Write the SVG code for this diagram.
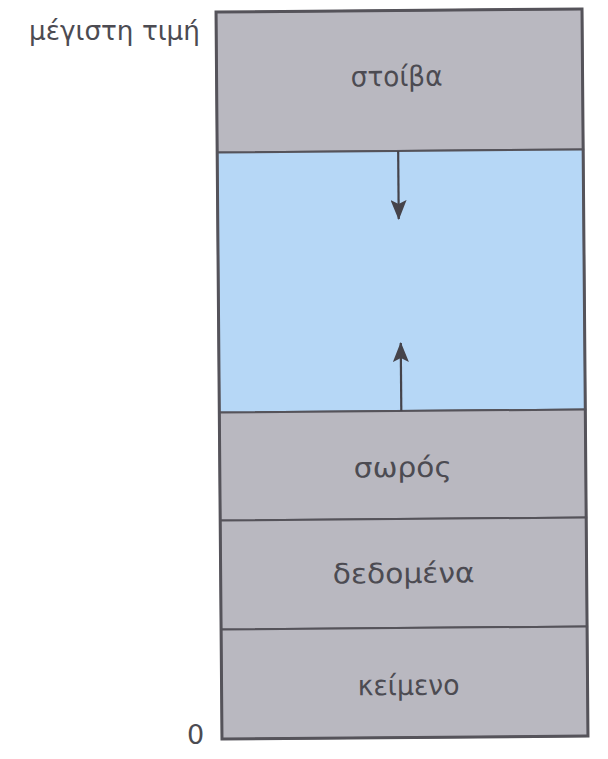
<svg xmlns="http://www.w3.org/2000/svg" width="608" height="759" viewBox="0 0 608 759">
<style>
.seg{fill:#b9b8c0;stroke:#55535a;stroke-width:2}
.free{fill:#b6d7f6;stroke:#55535a;stroke-width:2}
.lbl{font-family:"DejaVu Sans","Liberation Sans",sans-serif;font-size:28px;fill:#4c4b52;text-anchor:middle}
.side{font-family:"DejaVu Sans","Liberation Sans",sans-serif;font-size:27px;fill:#4c4b52}
.conn{stroke:#45434a;stroke-width:2.2;fill:none;marker-end:url(#ah)}
</style>
<defs>
<marker id="ah" viewBox="0 0 20 16" refX="19" refY="8" markerWidth="20" markerHeight="16" markerUnits="userSpaceOnUse" orient="auto">
<path d="M0,0 L20,8 L0,16 L4,8 Z" fill="#45434a"/>
</marker>
</defs>
<rect width="608" height="759" fill="#ffffff"/>
<g transform="rotate(-0.47 402 374)">
<g id="stack"><rect class="seg" x="219" y="10.5" width="366" height="140.5"/><text class="lbl" x="399" y="86" textLength="92" lengthAdjust="spacingAndGlyphs">στοίβα</text></g>
<g id="free"><rect class="free" x="219" y="151" width="366" height="260"/></g>
<g id="heap"><rect class="seg" x="219" y="411" width="366" height="108"/><text class="lbl" x="402" y="477" textLength="98" lengthAdjust="spacingAndGlyphs">σωρός</text></g>
<g id="data"><rect class="seg" x="219" y="519" width="366" height="109"/><text class="lbl" x="402" y="583" textLength="142" lengthAdjust="spacingAndGlyphs">δεδομένα</text></g>
<g id="text"><rect class="seg" x="219" y="628" width="366" height="109.5"/><text class="lbl" x="406" y="695" textLength="102" lengthAdjust="spacingAndGlyphs">κείμενο</text></g>
<rect x="219" y="10.5" width="366" height="727" fill="none" stroke="#55535a" stroke-width="3"/>
<g id="connectors">
<line class="conn" x1="400" y1="151" x2="400" y2="219"/>
<line class="conn" x1="401" y1="411" x2="401" y2="343"/>
</g>
</g>
<text class="side" x="29" y="40" textLength="171" lengthAdjust="spacingAndGlyphs">μέγιστη τιμή</text>
<text class="side" x="187" y="744">0</text>
</svg>
